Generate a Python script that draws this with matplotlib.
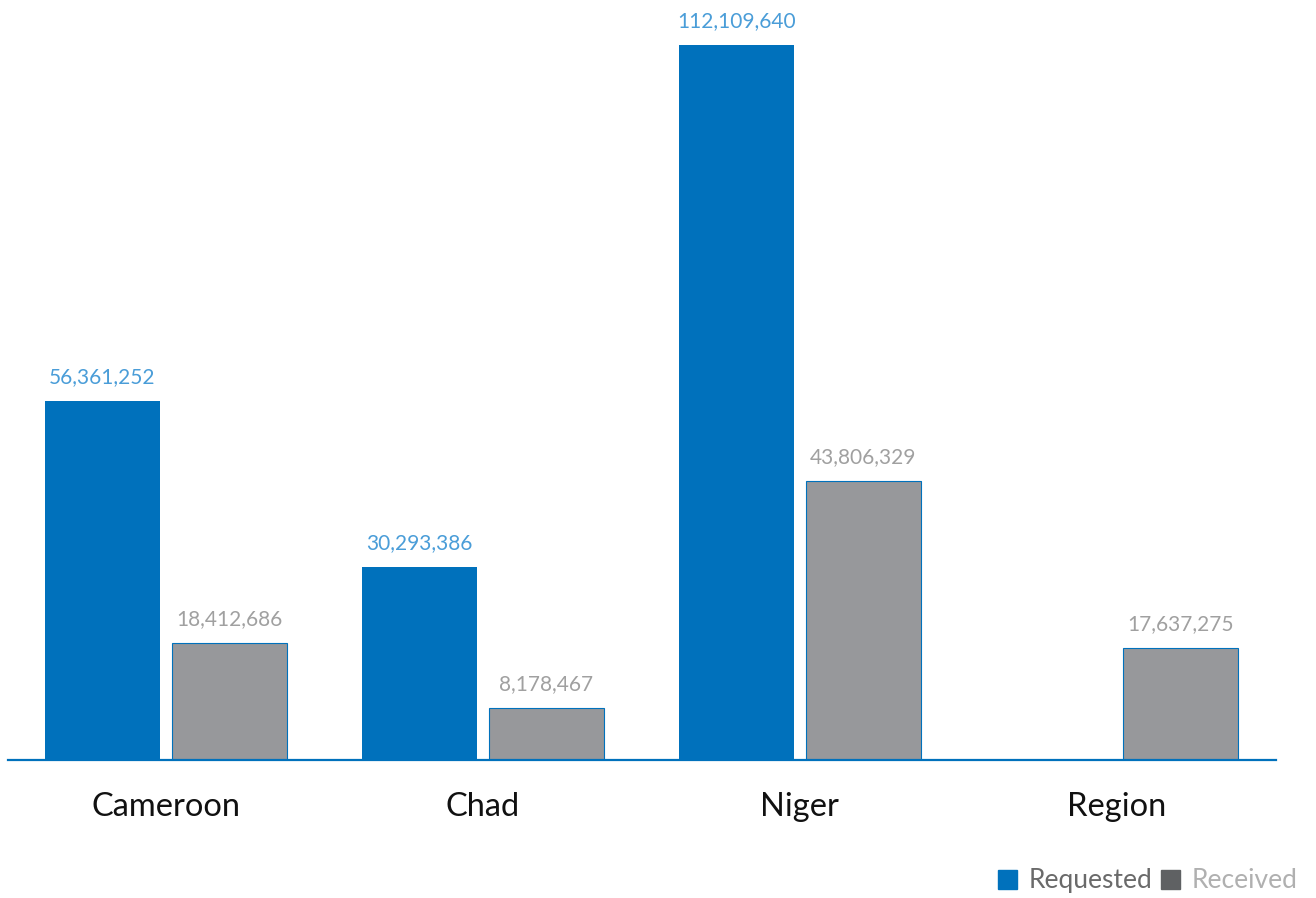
import numpy as np
import matplotlib
matplotlib.use('Agg')
import matplotlib.pyplot as plt
from matplotlib.patches import Patch

# data
countries = ['Cameroon', 'Chad', 'Niger', 'Region']
requested = [56361252, 30293386, 112109640, 0]
received = [18412686, 8178467, 43806329, 17637275]

blue = '#0071bc'
gray = '#97989b'

plt.rcParams['font.family'] = ['Lato', 'DejaVu Sans']

fig = plt.figure(figsize=(13.16, 8.98), dpi=100)
ax = fig.add_axes([8/1316, 1 - 760/898, 1268/1316, 760/898])

x = np.arange(len(countries))
w = 115/317
off = 63.5/317

b1 = ax.bar(x - off, requested, w, color=blue, linewidth=0)
b2 = ax.bar(x + off, received, w, color=gray, edgecolor=blue, linewidth=0.8)

# value labels
for xi, v in zip(x, requested):
    if v > 0:
        ax.annotate(f'{v:,}', (xi - off, v), xytext=(0, 10), textcoords='offset points',
                    ha='center', va='bottom', fontsize=15, color='#4a9dd8')
for xi, v in zip(x, received):
    ax.annotate(f'{v:,}', (xi + off, v), xytext=(0, 10), textcoords='offset points',
                ha='center', va='bottom', fontsize=15, color='#a0a0a0')

ax.set_xlim(-0.498, 3.502)
ax.set_ylim(0, 760/715*112109640)
ax.set_xticks(x)
ax.set_xticklabels(countries, fontsize=23.5, color='#111111')
ax.tick_params(axis='x', length=0, pad=23)
ax.set_yticks([])
for s in ['top', 'left', 'right']:
    ax.spines[s].set_visible(False)
ax.spines['bottom'].set_color(blue)
ax.spines['bottom'].set_linewidth(1.6)
ax.patch.set_alpha(0)

handles = [Patch(color=blue), Patch(color='#5f6163')]
leg = fig.legend(handles, ['Requested', 'Received'], loc='lower right',
                 bbox_to_anchor=(1308/1316, -6/898), ncol=2, frameon=False,
                 handlelength=0.72, handleheight=0.72,
                 handletextpad=0.45, columnspacing=0.3, borderaxespad=0,
                 labelcolor=['#6a6a6a', '#b0b0b0'], prop={'size': 19})

fig.savefig('out.png', dpi=100)
